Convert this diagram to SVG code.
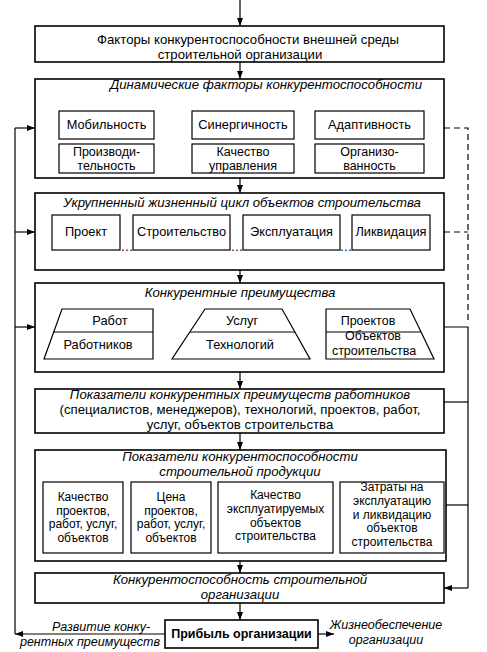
<svg xmlns="http://www.w3.org/2000/svg" width="487" height="652" viewBox="0 0 487 652">
<defs>
<marker id="ah" viewBox="0 0 8 6" refX="8" refY="3" markerWidth="8" markerHeight="6" orient="auto" markerUnits="userSpaceOnUse">
<path d="M0,0 L8,3 L0,6 z" fill="#000"/>
</marker>
<style>
.b{fill:#fff;stroke:#000;stroke-width:1.2}
.o{fill:#fff;stroke:#000;stroke-width:1.6}
.t{font-family:"Liberation Sans",Arial,sans-serif;font-size:12.8px;fill:#000;text-anchor:middle}
.L{font-size:13.2px}
.s{font-size:12px}
.m{font-size:12.5px}
.i{font-style:italic}
.c{fill:none;stroke:#000;stroke-width:1.2}
.d{fill:none;stroke:#000;stroke-width:1.2;stroke-dasharray:6,4}
</style>
</defs>
<rect width="487" height="652" fill="#fff"/>
<g id="connectors">
<line class="c" x1="240" y1="0" x2="240" y2="26" marker-end="url(#ah)"/>
<line class="c" x1="240" y1="62" x2="240" y2="79" marker-end="url(#ah)"/>
<line class="c" x1="240" y1="178" x2="240" y2="193" marker-end="url(#ah)"/>
<line class="c" x1="240" y1="270" x2="240" y2="283" marker-end="url(#ah)"/>
<line class="c" x1="240" y1="372" x2="240" y2="389" marker-end="url(#ah)"/>
<line class="c" x1="240" y1="433" x2="240" y2="450" marker-end="url(#ah)"/>
<line class="c" x1="240" y1="561" x2="240" y2="573" marker-end="url(#ah)"/>
<line class="c" x1="240" y1="603" x2="240" y2="620" marker-end="url(#ah)"/>
<polyline class="c" points="391,250 391,262 86,262 86,250" marker-end="url(#ah)"/>
<line class="c" x1="15" y1="128" x2="15" y2="634"/>
<line class="c" x1="15" y1="128" x2="35" y2="128" marker-end="url(#ah)"/>
<line class="c" x1="15" y1="232" x2="35" y2="232" marker-end="url(#ah)"/>
<line class="c" x1="15" y1="327" x2="35" y2="327" marker-end="url(#ah)"/>
<line class="c" x1="165" y1="634" x2="15" y2="634" marker-end="url(#ah)"/>
<line class="c" x1="318" y1="634" x2="334" y2="634" marker-end="url(#ah)"/>
<polyline class="d" points="444,128 468,128 468,320"/>
<line class="d" x1="444" y1="232" x2="468" y2="232"/>
<polyline class="c" points="444,327 468,327 468,588"/>
<line class="c" x1="444" y1="402" x2="468" y2="402"/>
<line class="c" x1="446" y1="505" x2="468" y2="505"/>
<line class="c" x1="468" y1="588" x2="444" y2="588" marker-end="url(#ah)"/>
</g>
<g id="n1">
<rect class="o" x="35" y="26" width="409" height="36"/>
<text class="t L" x="248" y="43.5">Факторы  конкурентоспособности внешней среды</text>
<text class="t L" x="240" y="58.5">строительной организации</text>
</g>
<g id="n2">
<rect class="o" x="35" y="79" width="409" height="99"/>
<text class="t L i" x="266" y="89">Динамические факторы конкурентоспособности</text>
</g>
<g id="n2a"><rect class="b" x="59" y="111" width="95" height="28"/><text class="t" x="106.5" y="129">Мобильность</text></g>
<g id="n2b"><rect class="b" x="192" y="111" width="102" height="28"/><text class="t" x="243" y="129">Синергичность</text></g>
<g id="n2c"><rect class="b" x="315" y="111" width="109" height="28"/><text class="t" x="369.5" y="129">Адаптивность</text></g>
<g id="n2d"><rect class="b" x="59" y="144" width="95" height="29"/><text class="t m" x="106.5" y="155.5">Производи-</text><text class="t m" x="106.5" y="169.5">тельность</text></g>
<g id="n2e"><rect class="b" x="192" y="144" width="102" height="29"/><text class="t m" x="243" y="155.5">Качество</text><text class="t m" x="243" y="169.5">управления</text></g>
<g id="n2f"><rect class="b" x="315" y="144" width="109" height="29"/><text class="t m" x="369.5" y="155.5">Организо-</text><text class="t m" x="369.5" y="169.5">ванность</text></g>
<g id="n3">
<rect class="o" x="35" y="193" width="409" height="77"/>
<text class="t L i" x="242" y="207">Укрупненный жизненный цикл объектов строительства</text>
<text class="t" x="127" y="251">…</text>
<text class="t" x="237" y="251">…</text>
<text class="t" x="346" y="251">…</text>
</g>
<g id="n3a"><rect class="b" x="52" y="215" width="68" height="35"/><text class="t" x="86" y="236">Проект</text></g>
<g id="n3b"><rect class="b" x="133" y="215" width="97" height="35"/><text class="t" x="181.5" y="236">Строительство</text></g>
<g id="n3c"><rect class="b" x="243" y="215" width="97" height="35"/><text class="t" x="291.5" y="236">Эксплуатация</text></g>
<g id="n3d"><rect class="b" x="352" y="215" width="78" height="35"/><text class="t" x="391" y="236">Ликвидация</text></g>
<g id="n4">
<rect class="o" x="35" y="283" width="409" height="89"/>
<text class="t L i" x="240" y="297">Конкурентные преимущества</text>
</g>
<g id="n4a">
<polygon class="b" points="62,309 153,309 153,359 44,359"/>
<line class="c" x1="53" y1="332" x2="153" y2="332"/>
<text class="t" x="110" y="325">Работ</text>
<text class="t" x="98" y="349">Работников</text>
</g>
<g id="n4b">
<polygon class="b" points="205,309 282,309 310,359 172,359"/>
<line class="c" x1="190" y1="332" x2="295" y2="332"/>
<text class="t" x="242" y="325">Услуг</text>
<text class="t" x="240" y="349">Технологий</text>
</g>
<g id="n4c">
<polygon class="b" points="326,309 410,309 434,359 326,359"/>
<line class="c" x1="326" y1="332" x2="421" y2="332"/>
<text class="t m" x="368" y="325">Проектов</text>
<text class="t m" x="373" y="339.8">Объектов</text>
<text class="t m" x="374" y="354.5">строительства</text>
</g>
<g id="n5">
<rect class="o" x="35" y="389" width="409" height="44"/>
<text class="t L i" x="240" y="398.5">Показатели конкурентных преимуществ работников</text>
<text class="t L" x="240" y="413.5">(специалистов, менеджеров), технологий, проектов, работ,</text>
<text class="t L" x="240" y="428.5">услуг, объектов строительства</text>
</g>
<g id="n6">
<rect class="o" x="35" y="450" width="411" height="111"/>
<text class="t L i" x="240" y="461">Показатели конкурентоспособности</text>
<text class="t L i" x="240" y="476">строительной продукции</text>
</g>
<g id="n6a"><rect class="b" x="43" y="482" width="80" height="71"/>
<text class="t s" x="83" y="500.8">Качество</text><text class="t s" x="83" y="514.6">проектов,</text><text class="t s" x="83" y="528.4">работ, услуг,</text><text class="t s" x="83" y="542.2">объектов</text></g>
<g id="n6b"><rect class="b" x="131" y="482" width="80" height="71"/>
<text class="t s" x="171" y="500.8">Цена</text><text class="t s" x="171" y="514.6">проектов,</text><text class="t s" x="171" y="528.4">работ, услуг,</text><text class="t s" x="171" y="542.2">объектов</text></g>
<g id="n6c"><rect class="b" x="218" y="482" width="115" height="71"/>
<text class="t s" x="275.5" y="499">Качество</text><text class="t s" x="275.5" y="512.8">эксплуатируемых</text><text class="t s" x="275.5" y="526.6">объектов</text><text class="t s" x="275.5" y="540.4">строительства</text></g>
<g id="n6d"><rect class="b" x="340" y="482" width="104" height="71"/>
<text class="t s" x="392" y="491">Затраты на</text><text class="t s" x="392" y="504.8">эксплуатацию</text><text class="t s" x="392" y="518.6">и ликвидацию</text><text class="t s" x="392" y="532.4">объектов</text><text class="t s" x="392" y="546.2">строительства</text></g>
<g id="n7">
<rect class="o" x="35" y="573" width="409" height="30"/>
<text class="t L i" x="240" y="583.5">Конкурентоспособность  строительной</text>
<text class="t L i" x="240" y="598.5">организации</text>
</g>
<g id="n8">
<rect class="o" x="165" y="620" width="153" height="28"/>
<text class="t m" x="241.5" y="638" font-weight="bold">Прибыль организации</text>
</g>
<g id="labels">
<text class="t m i" x="101" y="630.5">Развитие конку-</text>
<text class="t m i" x="90" y="645.5">рентных преимуществ</text>
<text class="t m i" x="386" y="628.5">Жизнеобеспечение</text>
<text class="t m i" x="386" y="643.5">организации</text>
</g>
</svg>
